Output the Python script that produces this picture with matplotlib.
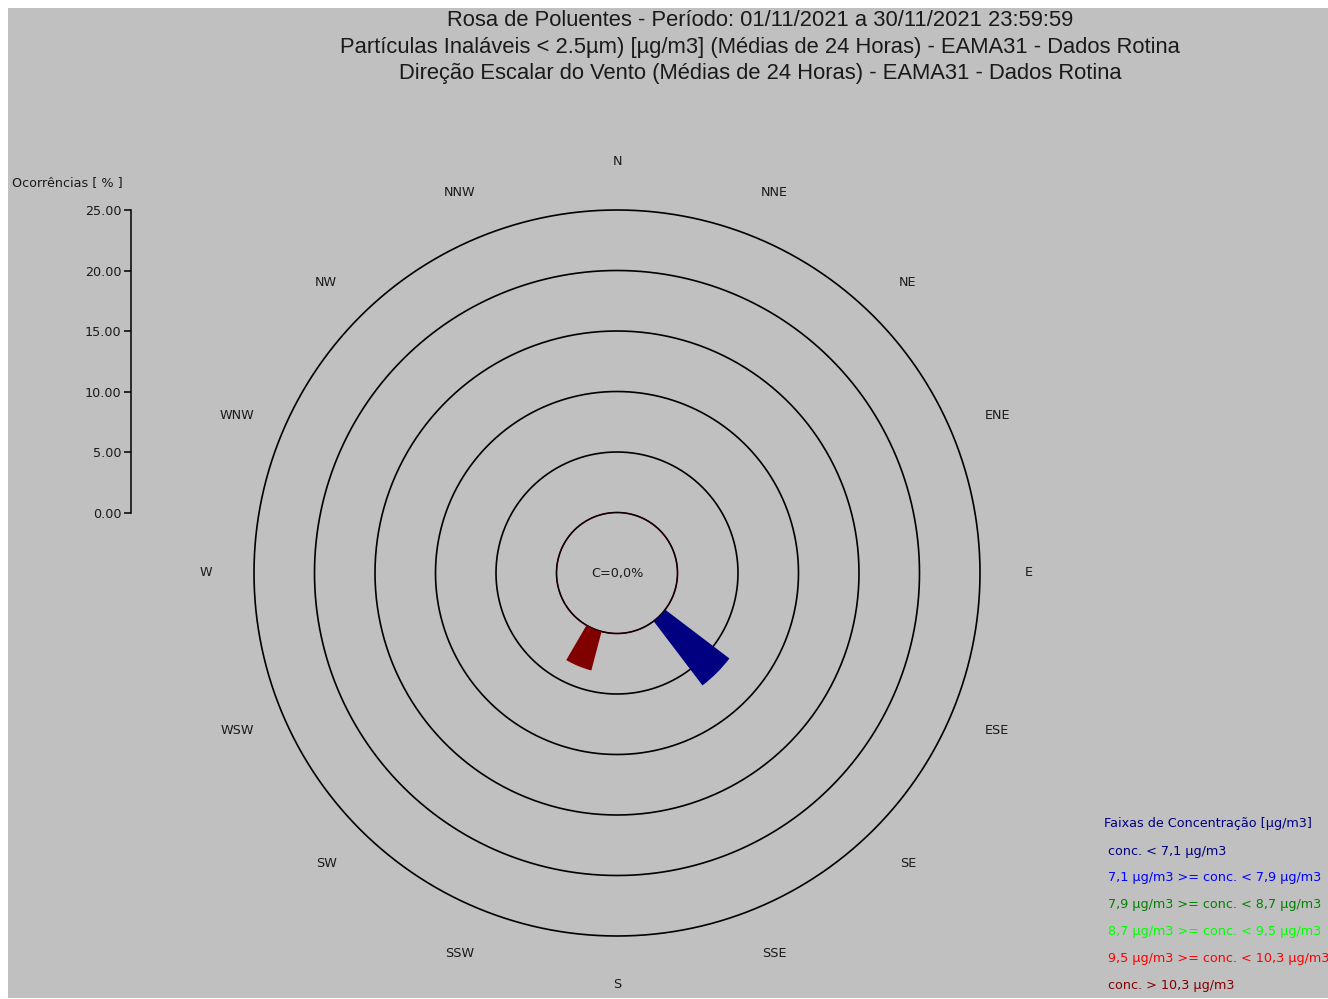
import matplotlib.pyplot as plt
import numpy as np
from matplotlib.patches import Rectangle

plt.rcParams['font.family'] = ['DejaVu Sans']

setores = ['N', 'NNE', 'NE', 'ENE', 'E', 'ESE', 'SE', 'SSE',
           'S', 'SSW', 'SW', 'WSW', 'W', 'WNW', 'NW', 'NNW']

faixas = ['conc. < 7,1 µg/m3',
          '7,1 µg/m3 >= conc. < 7,9 µg/m3',
          '7,9 µg/m3 >= conc. < 8,7 µg/m3',
          '8,7 µg/m3 >= conc. < 9,5 µg/m3',
          '9,5 µg/m3 >= conc. < 10,3 µg/m3',
          'conc. > 10,3 µg/m3']
cores = ['#000080', '#0000ff', '#008000', '#00ff00', '#ff0000', '#800000']

# ocorrencias [%] por faixa e por setor (N, NNE, ..., NNW)
ocorr = [
    [0, 0, 0, 0, 0, 0, 6.67, 0, 0, 0, 0, 0, 0, 0, 0, 0],
    [0] * 16,
    [0] * 16,
    [0] * 16,
    [0] * 16,
    [0, 0, 0, 0, 0, 0, 0, 0, 0, 3.33, 0, 0, 0, 0, 0, 0],
]
calmaria = 0.0

aneis = [0, 5, 10, 15, 20, 25]

titulos = ['Rosa de Poluentes - Período: 01/11/2021 a 30/11/2021 23:59:59',
           'Partículas Inaláveis < 2.5µm) [µg/m3] (Médias de 24 Horas) - EAMA31 - Dados Rotina',
           'Direção Escalar do Vento (Médias de 24 Horas) - EAMA31 - Dados Rotina']

W, H = 1328, 999
fig = plt.figure(figsize=(W / 100, H / 100), dpi=100, facecolor='white')
fig.patches.append(Rectangle((8 / W, 1 / H), 1 - 8 / W, (H - 9) / H,
                             transform=fig.transFigure, facecolor='#c0c0c0',
                             edgecolor='none', zorder=-10))

txt = '#1a1a1a'
fs = 9.2

# titulo
for i, t in enumerate(titulos):
    fig.text(760 / W, 1 - (21 + 26 * i) / H, t, ha='center', va='center',
             fontsize=15.8, color=txt, family='Liberation Sans')

# rosa
cx, cy, R = 617, 573, 363
ax = fig.add_axes([(cx - R) / W, 1 - (cy + R) / H, 2 * R / W, 2 * R / H],
                  projection='polar')
ax.set_facecolor('none')
ax.set_theta_zero_location('N')
ax.set_theta_direction(-1)
ax.set_ylim(0, 25)
ax.set_rorigin(-5)
ax.set_xticks([])
ax.set_yticks([])
ax.grid(False)
ax.spines['polar'].set_visible(False)

tt = np.linspace(0, 2 * np.pi, 721)
for r in aneis:
    cor = '#4a0010' if r == 0 else 'black'
    ax.plot(tt, np.full_like(tt, r), color=cor, lw=1.2, zorder=2,
            clip_on=False, solid_capstyle='butt')

theta = np.deg2rad(np.arange(16) * 22.5)
largura = np.deg2rad(15.5)
base = np.zeros(16)
for vals, c in zip(ocorr, cores):
    vals = np.array(vals, dtype=float)
    ax.bar(theta, vals, width=largura, bottom=base, color=c,
           edgecolor='none', zorder=3)
    base += vals

for th, s in zip(theta, setores):
    ax.text(th, 29.0, s, ha='center', va='center', fontsize=fs,
            color=txt, clip_on=False)
ax.text(0, -5, ('C=%.1f%%' % calmaria).replace('.', ','), ha='center',
        va='center', fontsize=fs, color=txt)

# escala de ocorrencias
esc = fig.add_axes([131 / W, 1 - 513 / H, 0.001, 303 / H])
esc.set_facecolor('none')
esc.set_ylim(0, 25)
esc.set_yticks(aneis)
esc.set_yticklabels(['%.2f' % v for v in aneis], fontsize=fs, color=txt)
esc.set_xticks([])
for k in ['top', 'right', 'bottom']:
    esc.spines[k].set_visible(False)
esc.spines['left'].set_linewidth(1.1)
esc.tick_params(axis='y', length=5, width=1.1, pad=2)
fig.text(12 / W, 1 - 183 / H, 'Ocorrências [ % ]', ha='left', va='center',
         fontsize=fs, color=txt)

# legenda das faixas
fig.text(1104 / W, 1 - 824 / H, 'Faixas de Concentração [µg/m3]',
         ha='left', va='center', fontsize=fs, color='#000080')
for i, (f, c) in enumerate(zip(faixas, cores)):
    fig.text(1108 / W, 1 - (851 + 26.8 * i) / H, f, ha='left', va='center',
             fontsize=fs, color=c)

fig.savefig('out.png', dpi=100, facecolor='white')
